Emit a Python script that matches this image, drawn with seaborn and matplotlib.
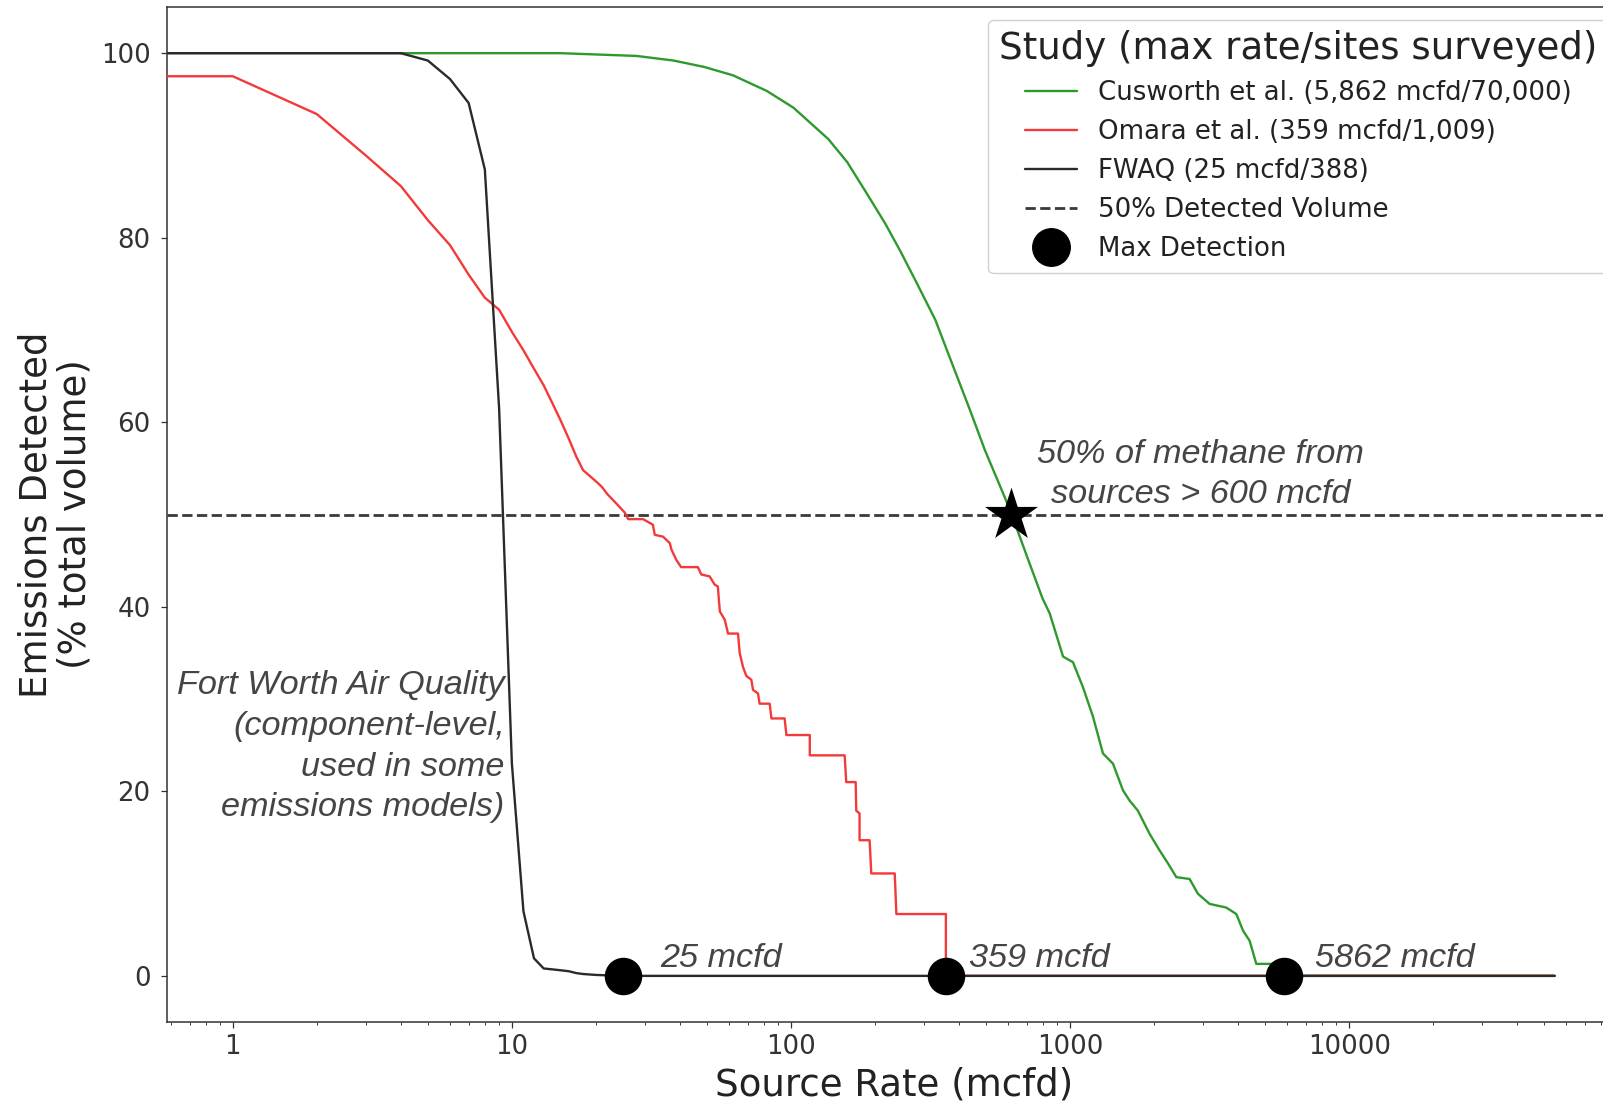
import numpy as np
import pandas as pd
import matplotlib
matplotlib.use("Agg")
import matplotlib.pyplot as plt
import seaborn as sns
from matplotlib.lines import Line2D
from matplotlib.ticker import FixedLocator, FuncFormatter, NullFormatter, LogLocator

# ---------------- data ----------------
cusworth_rate = [0.1, 15, 28, 38, 49, 62, 82, 102, 136, 159, 186, 218, 247, 280, 329,
                 373, 437, 495, 581, 618, 702, 797, 845, 944, 1024, 1112, 1208, 1312,
                 1425, 1548, 1634, 1750, 1927, 2093, 2242, 2403, 2681, 2871, 3162, 3630,
                 3943, 4167, 4400, 4648, 5862, 5862, 54500]
cusworth_pct = [100, 100, 99.7, 99.2, 98.5, 97.6, 95.9, 94.1, 90.7, 88.2, 84.9, 81.5,
                78.5, 75.3, 71.1, 66.8, 61.4, 57.0, 52.0, 50.0, 45.4, 40.9, 39.3, 34.6,
                34.0, 31.3, 28.1, 24.1, 23.0, 20.1, 19.0, 17.9, 15.4, 13.6, 12.2, 10.7,
                10.5, 8.9, 7.8, 7.4, 6.7, 4.9, 3.8, 1.3, 1.3, 0, 0]

omara_rate = [0.1, 1, 2, 3, 4, 5, 6, 7, 8, 9, 10, 11, 12, 13, 14, 15, 16, 17, 18, 20, 21,
              22, 24, 25.4, 26.1, 29.5, 32.0, 32.5, 34.8, 36.8, 37.3, 38.8, 40.4, 46.4,
              47.7, 51.1, 53.3, 54.7, 55.6, 57.9, 59.5, 64.6, 65.5, 67.3, 69.2, 72.1,
              73.1, 76.2, 77.2, 83.9, 85.1, 94.9, 96.3, 116.8, 116.8, 155.7, 157.8,
              170.5, 171.4, 176.1, 176.1, 191.3, 194, 235.4, 238.6, 359, 359, 54500]
omara_pct = [97.5, 97.5, 93.4, 88.9, 85.6, 81.9, 79.2, 76.0, 73.5, 72.2, 69.8, 67.8, 65.8,
             64.0, 62.0, 60.1, 58.2, 56.3, 54.8, 53.6, 53.0, 52.2, 51.0, 50.2, 49.5, 49.5,
             48.9, 47.8, 47.6, 46.9, 46.2, 45.1, 44.3, 44.3, 43.5, 43.3, 42.4, 42.2, 39.5,
             38.6, 37.1, 37.1, 35.0, 33.5, 32.5, 32.1, 31.0, 30.6, 29.5, 29.5, 27.9, 27.9,
             26.1, 26.1, 23.9, 23.9, 21.0, 21.0, 17.9, 17.6, 14.7, 14.7, 11.1, 11.1, 6.7,
             6.7, 0, 0]

fwaq_rate = [0.1, 4, 5, 6, 7, 8, 9, 10, 11, 12, 13, 14, 15, 16, 17, 18, 20, 25, 54500]
fwaq_pct = [100, 100, 99.2, 97.2, 94.6, 87.4, 61.5, 23.0, 7.0, 1.9, 0.8, 0.7, 0.6, 0.5,
            0.3, 0.2, 0.1, 0, 0]

max_rate = [25, 359, 5862]
max_pct = [0, 0, 0]
max_labels = ["25 mcfd", "359 mcfd", "5862 mcfd"]
max_label_x = [34.1, 433.6, 7568]

half_rate = [615]
half_pct = [50]
half_level = 50

series_labels = ["Cusworth et al. (5,862 mcfd/70,000)",
                 "Omara et al. (359 mcfd/1,009)",
                 "FWAQ (25 mcfd/388)",
                 "50% Detected Volume",
                 "Max Detection"]
legend_title = "Study (max rate/sites surveyed)"
x_ticks = [1, 10, 100, 1000, 10000]
y_ticks = [0, 20, 40, 60, 80, 100]

# ---------------- styling ----------------
sns.set_style("ticks")
plt.rcParams["font.family"] = ["DejaVu Sans"]

GREEN = "#2e9a2e"
RED = "#f23a3a"
BLACK = "#2a2a2a"
ANN = "#454545"
ann_font = dict(family=["Liberation Sans", "DejaVu Sans"], style="italic",
                color=ANN, fontsize=24.7)

fig = plt.figure(figsize=(16.03, 11.02), dpi=100)
ax = fig.add_axes([0.104, 0.0726, 0.907, 0.921])

df_c = pd.DataFrame({"rate": cusworth_rate, "pct": cusworth_pct})
df_o = pd.DataFrame({"rate": omara_rate, "pct": omara_pct})
df_f = pd.DataFrame({"rate": fwaq_rate, "pct": fwaq_pct})

sns.lineplot(data=df_c, x="rate", y="pct", sort=False, estimator=None, color=GREEN,
             lw=1.7, ax=ax, zorder=3)
sns.lineplot(data=df_o, x="rate", y="pct", sort=False, estimator=None, color=RED,
             lw=1.7, ax=ax, zorder=3)
sns.lineplot(data=df_f, x="rate", y="pct", sort=False, estimator=None, color=BLACK,
             lw=1.7, ax=ax, zorder=3)

ax.axhline(half_level, color="#3a3a3a", ls="--", lw=2.0, zorder=2)

sns.scatterplot(x=max_rate, y=max_pct, s=27 ** 2, color="black", edgecolor="black",
                linewidth=0, ax=ax, zorder=5)
sns.scatterplot(x=half_rate, y=half_pct, marker="*", s=40 ** 2, color="black",
                edgecolor="black", linewidth=0, ax=ax, zorder=5)

ax.set_xscale("log")
ax.set_xlim(10 ** -0.2368, 10 ** 4.9728)
ax.set_ylim(-5, 105)

ax.xaxis.set_major_locator(FixedLocator(x_ticks))
ax.xaxis.set_major_formatter(FuncFormatter(lambda v, p: f"{v:g}"))
ax.xaxis.set_minor_locator(LogLocator(base=10, subs=np.arange(2, 10), numticks=20))
ax.xaxis.set_minor_formatter(NullFormatter())
ax.set_yticks(y_ticks)

ax.tick_params(axis="both", which="major", labelsize=18.7, length=4, width=0.9,
               colors="#333333")
ax.tick_params(axis="x", which="major", pad=5)
ax.tick_params(axis="y", which="major", pad=7.5)
ax.tick_params(axis="x", which="minor", length=2.3, width=0.7, colors="#333333")
for s in ax.spines.values():
    s.set_color("#333333")
    s.set_linewidth(1.1)

ax.set_xlabel("Source Rate (mcfd)", fontsize=26.7, color="#222222", labelpad=4)
ax.set_ylabel("Emissions Detected\n(% total volume)", fontsize=26.7, color="#222222",
              labelpad=5.5, linespacing=1.08)

# annotations (va='baseline' anchors the last line of multi-line text)
ax.text(9.42, 17.3, "Fort Worth Air Quality\n(component-level,\nused in some\nemissions models)",
        ha="right", va="baseline", multialignment="right", linespacing=1.40, **ann_font)
ax.text(2940, 51.2, "50% of methane from\nsources > 600 mcfd", ha="center",
        va="baseline", multialignment="center", linespacing=1.40, **ann_font)
for lx, lab in zip(max_label_x, max_labels):
    ax.text(lx, 1.0, lab, ha="left", va="baseline", **ann_font)

# legend
handles = [
    Line2D([], [], color=GREEN, lw=1.7),
    Line2D([], [], color=RED, lw=1.7),
    Line2D([], [], color=BLACK, lw=1.7),
    Line2D([], [], color="#3a3a3a", lw=2.0, ls="--"),
    Line2D([], [], ls="", marker="o", ms=27, color="black"),
]
leg = ax.legend(handles, series_labels, title=legend_title, loc="upper right",
                fontsize=18.7, title_fontsize=26.7, labelspacing=0.5,
                frameon=True, framealpha=1.0, edgecolor="#d0d0d0")
for t in leg.get_texts():
    t.set_color("#222222")
leg.get_title().set_color("#222222")

fig.savefig("out.png", dpi=100)
